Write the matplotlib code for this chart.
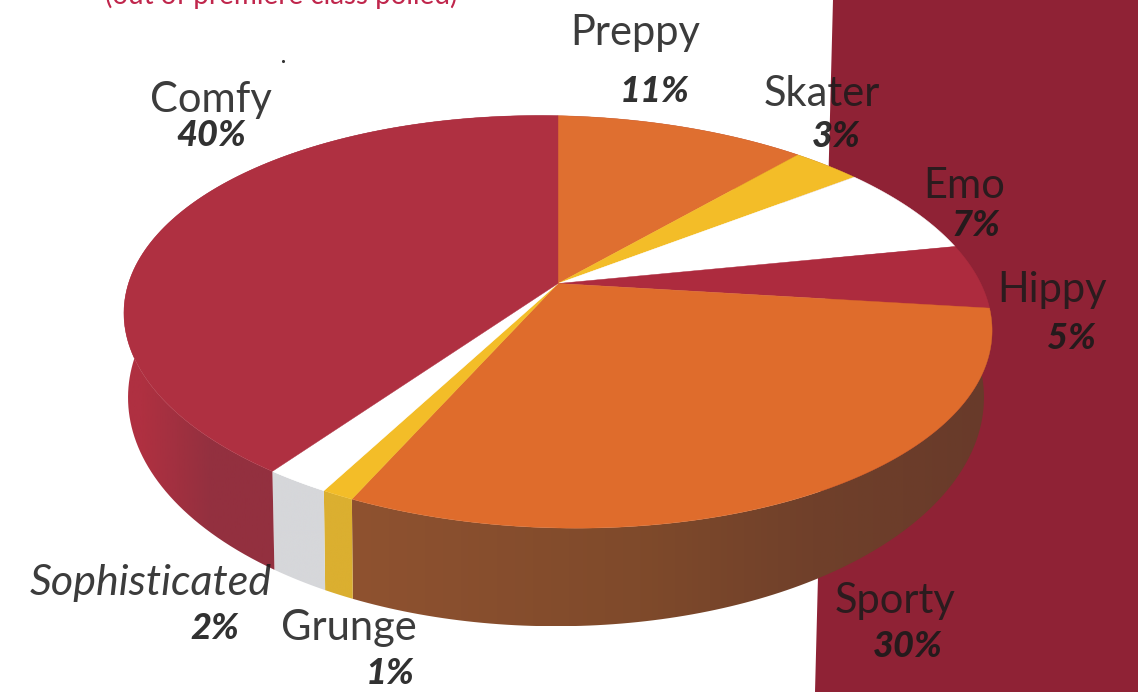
import numpy as np
from matplotlib import pylab as plt
from matplotlib.colors import LinearSegmentedColormap
from matplotlib.patches import Polygon

# survey values as printed (they add up to 99, the pie normalises them)
names = ["Preppy", "Skater", "Emo", "Hippy", "Sporty", "Grunge", "Sophisticated", "Comfy"]
values = [11, 3, 7, 5, 30, 1, 2, 40]
pct_labels = ["11%", "3%", "7%", "5%", "30%", "1%", "2%", "40%"]

top_colors = ["#DF6F30", "#F3BD28", "#FFFFFF", "#AD2B3E", "#DF6C2C", "#F3BD28", "#FFFFFF", "#AF3041"]
# side colours from left to right on the picture, as (position, colour)
flat_red = [(0, "#8F2B3A"), (1, "#8F2B3A")]
side_colors = [flat_red, flat_red, flat_red, flat_red,
               [(0, "#8F5230"), (0.45, "#7F4A2B"), (0.72, "#70402A"), (1, "#683A2A")],
               [(0, "#DBAF30"), (1, "#DBAF30")],
               [(0, "#D6D7DA"), (1, "#D6D7DA")],
               [(0, "#AF3041"), (0.04, "#AF3041"), (0.2, "#93303F"), (1, "#93303F")]]

# label position: left edge and baseline in image pixels
name_pos = [(570, 45), (764, 106), (923, 198), (997, 302), (835, 613), (281, 640), (30, 595), (150, 112)]
pct_pos = [(620, 102), (812, 147), (952, 236), (1047, 349), (873, 657), (366, 684), (190, 639), (176, 146)]

W, H = 1138, 692
K = 0.186


def rim(theta, x0, y0, a, b, tilt=0.0):
    """Perspective view of the disc edge, theta clockwise from the top in degrees"""
    t = np.radians(theta)
    x = np.sin(t)
    y = np.cos(t)
    d = 1 + K * y
    X = a * x / d
    Y = b * y / d
    return x0 + X, y0 - Y + tilt * X


def top_rim(theta):
    return rim(theta, 558, 283.5, 426.5, 199, tilt=0.02)


def bottom_rim(theta):
    return rim(theta, 556, 355, 420.5, 220.8)


plt.rcParams["font.family"] = "Lato"
fig = plt.figure(figsize=(W / 100, H / 100), dpi=100, facecolor="white")
ax = fig.add_axes([0, 0, 1, 1])

# red page panel behind the pie
ax.fill([833, W, W, 815], [0, 0, H, H], color="#8F2235", lw=0, zorder=1)

edges = np.cumsum([0] + values) / sum(values) * 360

# sides, a horizontal gradient clipped to each slice
for k in range(len(values)):
    t = np.linspace(edges[k], edges[k + 1], 121)
    xa, ya = top_rim(t)
    xb, yb = bottom_rim(t)
    xs = np.r_[xa, xb[::-1]]
    ys = np.r_[ya, yb[::-1]]
    poly = Polygon(np.c_[xs, ys], closed=True, fc="none", ec="none", transform=ax.transData)
    ax.add_patch(poly)
    cmap = LinearSegmentedColormap.from_list("side%d" % k, side_colors[k])
    grad = np.linspace(0, 1, 256)[None, :]
    im = ax.imshow(grad, cmap=cmap, extent=[xs.min(), xs.max(), ys.max(), ys.min()],
                   aspect="auto", zorder=2)
    im.set_clip_path(poly)

# top face
for k in range(len(values)):
    t = np.linspace(edges[k], edges[k + 1], 121)
    x, y = top_rim(t)
    ax.fill(np.r_[558, x], np.r_[283.5, y], color=top_colors[k], lw=0.3, zorder=3)

# labels
for k, name in enumerate(names):
    style = "italic" if name == "Sophisticated" else "normal"
    size = 31 if name == "Sophisticated" else 30
    ax.text(name_pos[k][0], name_pos[k][1], name, fontsize=size, fontstyle=style,
            color="#1a1a1a", alpha=0.85, va="baseline", ha="left", zorder=5)
    ax.text(pct_pos[k][0], pct_pos[k][1], pct_labels[k], fontsize=26, fontweight="black", fontstyle="italic",
            color="#1a1a1a", alpha=0.9, va="baseline", ha="left", zorder=5)

# subtitle cut off by the crop
ax.text(105, 4, "(out of premiere class polled)", fontsize=20, color="#C0264C",
        va="baseline", ha="left", zorder=5)
ax.scatter([283], [61], s=5, color="#333333", lw=0, zorder=5)

ax.set_xlim(0, W)
ax.set_ylim(H, 0)
ax.axis("off")

fig.savefig("out.png", dpi=100)
